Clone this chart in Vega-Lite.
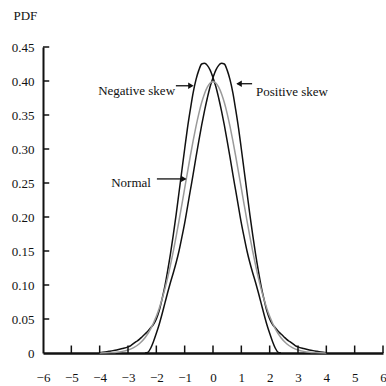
{
  "$schema": "https://vega.github.io/schema/vega-lite/v6.json",
  "autosize": "none",
  "width": 340,
  "height": 306,
  "padding": {"left": 43, "top": 47, "right": 3, "bottom": 33},
  "background": "white",
  "config": {
    "view": {"stroke": null},
    "font": "Liberation Serif",
    "axis": {"labelFont": "Liberation Serif", "labelFontSize": 13, "labelColor": "#111", "domainColor": "#111", "grid": false}
  },
  "datasets": {
    "curves": [
      {"x": -2.4, "y": 0, "curve": "pos"},
      {"x": -2.3, "y": 0.001, "curve": "pos"},
      {"x": -2.2, "y": 0.007, "curve": "pos"},
      {"x": -2.1, "y": 0.017, "curve": "pos"},
      {"x": -2.0, "y": 0.029, "curve": "pos"},
      {"x": -1.9, "y": 0.042, "curve": "pos"},
      {"x": -1.8, "y": 0.057, "curve": "pos"},
      {"x": -1.7, "y": 0.073, "curve": "pos"},
      {"x": -1.6, "y": 0.089, "curve": "pos"},
      {"x": -1.5, "y": 0.104, "curve": "pos"},
      {"x": -1.4, "y": 0.118, "curve": "pos"},
      {"x": -1.3, "y": 0.133, "curve": "pos"},
      {"x": -1.2, "y": 0.150, "curve": "pos"},
      {"x": -1.1, "y": 0.170, "curve": "pos"},
      {"x": -1.0, "y": 0.191, "curve": "pos"},
      {"x": -0.9, "y": 0.215, "curve": "pos"},
      {"x": -0.8, "y": 0.239, "curve": "pos"},
      {"x": -0.7, "y": 0.263, "curve": "pos"},
      {"x": -0.6, "y": 0.288, "curve": "pos"},
      {"x": -0.5, "y": 0.312, "curve": "pos"},
      {"x": -0.4, "y": 0.335, "curve": "pos"},
      {"x": -0.3, "y": 0.356, "curve": "pos"},
      {"x": -0.2, "y": 0.375, "curve": "pos"},
      {"x": -0.1, "y": 0.392, "curve": "pos"},
      {"x": 0.0, "y": 0.405, "curve": "pos"},
      {"x": 0.1, "y": 0.416, "curve": "pos"},
      {"x": 0.2, "y": 0.423, "curve": "pos"},
      {"x": 0.3, "y": 0.426, "curve": "pos"},
      {"x": 0.4, "y": 0.425, "curve": "pos"},
      {"x": 0.5, "y": 0.416, "curve": "pos"},
      {"x": 0.6, "y": 0.402, "curve": "pos"},
      {"x": 0.7, "y": 0.383, "curve": "pos"},
      {"x": 0.8, "y": 0.358, "curve": "pos"},
      {"x": 0.9, "y": 0.331, "curve": "pos"},
      {"x": 1.0, "y": 0.300, "curve": "pos"},
      {"x": 1.1, "y": 0.268, "curve": "pos"},
      {"x": 1.2, "y": 0.236, "curve": "pos"},
      {"x": 1.3, "y": 0.204, "curve": "pos"},
      {"x": 1.4, "y": 0.174, "curve": "pos"},
      {"x": 1.5, "y": 0.146, "curve": "pos"},
      {"x": 1.6, "y": 0.121, "curve": "pos"},
      {"x": 1.7, "y": 0.098, "curve": "pos"},
      {"x": 1.8, "y": 0.079, "curve": "pos"},
      {"x": 1.9, "y": 0.062, "curve": "pos"},
      {"x": 2.0, "y": 0.050, "curve": "pos"},
      {"x": 2.1, "y": 0.042, "curve": "pos"},
      {"x": 2.2, "y": 0.037, "curve": "pos"},
      {"x": 2.3, "y": 0.032, "curve": "pos"},
      {"x": 2.4, "y": 0.028, "curve": "pos"},
      {"x": 2.5, "y": 0.024, "curve": "pos"},
      {"x": 2.6, "y": 0.020, "curve": "pos"},
      {"x": 2.7, "y": 0.017, "curve": "pos"},
      {"x": 2.8, "y": 0.014, "curve": "pos"},
      {"x": 2.9, "y": 0.011, "curve": "pos"},
      {"x": 3.0, "y": 0.009, "curve": "pos"},
      {"x": 3.2, "y": 0.0065, "curve": "pos"},
      {"x": 3.4, "y": 0.0045, "curve": "pos"},
      {"x": 3.6, "y": 0.003, "curve": "pos"},
      {"x": 3.8, "y": 0.0015, "curve": "pos"},
      {"x": 4.0, "y": 0.0005, "curve": "pos"},

      {"x": 2.4, "y": 0, "curve": "neg"},
      {"x": 2.3, "y": 0.001, "curve": "neg"},
      {"x": 2.2, "y": 0.007, "curve": "neg"},
      {"x": 2.1, "y": 0.017, "curve": "neg"},
      {"x": 2.0, "y": 0.029, "curve": "neg"},
      {"x": 1.9, "y": 0.042, "curve": "neg"},
      {"x": 1.8, "y": 0.057, "curve": "neg"},
      {"x": 1.7, "y": 0.073, "curve": "neg"},
      {"x": 1.6, "y": 0.089, "curve": "neg"},
      {"x": 1.5, "y": 0.104, "curve": "neg"},
      {"x": 1.4, "y": 0.118, "curve": "neg"},
      {"x": 1.3, "y": 0.133, "curve": "neg"},
      {"x": 1.2, "y": 0.150, "curve": "neg"},
      {"x": 1.1, "y": 0.170, "curve": "neg"},
      {"x": 1.0, "y": 0.191, "curve": "neg"},
      {"x": 0.9, "y": 0.215, "curve": "neg"},
      {"x": 0.8, "y": 0.239, "curve": "neg"},
      {"x": 0.7, "y": 0.263, "curve": "neg"},
      {"x": 0.6, "y": 0.288, "curve": "neg"},
      {"x": 0.5, "y": 0.312, "curve": "neg"},
      {"x": 0.4, "y": 0.335, "curve": "neg"},
      {"x": 0.3, "y": 0.356, "curve": "neg"},
      {"x": 0.2, "y": 0.375, "curve": "neg"},
      {"x": 0.1, "y": 0.392, "curve": "neg"},
      {"x": 0.0, "y": 0.405, "curve": "neg"},
      {"x": -0.1, "y": 0.416, "curve": "neg"},
      {"x": -0.2, "y": 0.423, "curve": "neg"},
      {"x": -0.3, "y": 0.426, "curve": "neg"},
      {"x": -0.4, "y": 0.425, "curve": "neg"},
      {"x": -0.5, "y": 0.416, "curve": "neg"},
      {"x": -0.6, "y": 0.402, "curve": "neg"},
      {"x": -0.7, "y": 0.383, "curve": "neg"},
      {"x": -0.8, "y": 0.358, "curve": "neg"},
      {"x": -0.9, "y": 0.331, "curve": "neg"},
      {"x": -1.0, "y": 0.300, "curve": "neg"},
      {"x": -1.1, "y": 0.268, "curve": "neg"},
      {"x": -1.2, "y": 0.236, "curve": "neg"},
      {"x": -1.3, "y": 0.204, "curve": "neg"},
      {"x": -1.4, "y": 0.174, "curve": "neg"},
      {"x": -1.5, "y": 0.146, "curve": "neg"},
      {"x": -1.6, "y": 0.121, "curve": "neg"},
      {"x": -1.7, "y": 0.098, "curve": "neg"},
      {"x": -1.8, "y": 0.079, "curve": "neg"},
      {"x": -1.9, "y": 0.062, "curve": "neg"},
      {"x": -2.0, "y": 0.050, "curve": "neg"},
      {"x": -2.1, "y": 0.042, "curve": "neg"},
      {"x": -2.2, "y": 0.037, "curve": "neg"},
      {"x": -2.3, "y": 0.032, "curve": "neg"},
      {"x": -2.4, "y": 0.028, "curve": "neg"},
      {"x": -2.5, "y": 0.024, "curve": "neg"},
      {"x": -2.6, "y": 0.020, "curve": "neg"},
      {"x": -2.7, "y": 0.017, "curve": "neg"},
      {"x": -2.8, "y": 0.014, "curve": "neg"},
      {"x": -2.9, "y": 0.011, "curve": "neg"},
      {"x": -3.0, "y": 0.009, "curve": "neg"},
      {"x": -3.2, "y": 0.0065, "curve": "neg"},
      {"x": -3.4, "y": 0.0045, "curve": "neg"},
      {"x": -3.6, "y": 0.003, "curve": "neg"},
      {"x": -3.8, "y": 0.0015, "curve": "neg"},
      {"x": -4.0, "y": 0.0005, "curve": "neg"},

      {"x": -4.0, "y": 0.0001, "curve": "normal"},
      {"x": -3.6, "y": 0.0006, "curve": "normal"},
      {"x": -3.4, "y": 0.0012, "curve": "normal"},
      {"x": -3.2, "y": 0.0024, "curve": "normal"},
      {"x": -3.0, "y": 0.0044, "curve": "normal"},
      {"x": -2.8, "y": 0.0079, "curve": "normal"},
      {"x": -2.6, "y": 0.0136, "curve": "normal"},
      {"x": -2.4, "y": 0.0224, "curve": "normal"},
      {"x": -2.2, "y": 0.0355, "curve": "normal"},
      {"x": -2.0, "y": 0.0540, "curve": "normal"},
      {"x": -1.9, "y": 0.0656, "curve": "normal"},
      {"x": -1.8, "y": 0.0790, "curve": "normal"},
      {"x": -1.7, "y": 0.0940, "curve": "normal"},
      {"x": -1.6, "y": 0.1109, "curve": "normal"},
      {"x": -1.5, "y": 0.1295, "curve": "normal"},
      {"x": -1.4, "y": 0.1497, "curve": "normal"},
      {"x": -1.3, "y": 0.1714, "curve": "normal"},
      {"x": -1.2, "y": 0.1942, "curve": "normal"},
      {"x": -1.1, "y": 0.2179, "curve": "normal"},
      {"x": -1.0, "y": 0.2420, "curve": "normal"},
      {"x": -0.9, "y": 0.2661, "curve": "normal"},
      {"x": -0.8, "y": 0.2897, "curve": "normal"},
      {"x": -0.7, "y": 0.3123, "curve": "normal"},
      {"x": -0.6, "y": 0.3332, "curve": "normal"},
      {"x": -0.5, "y": 0.3521, "curve": "normal"},
      {"x": -0.4, "y": 0.3683, "curve": "normal"},
      {"x": -0.3, "y": 0.3814, "curve": "normal"},
      {"x": -0.2, "y": 0.3910, "curve": "normal"},
      {"x": -0.1, "y": 0.3970, "curve": "normal"},
      {"x": 0.0, "y": 0.3989, "curve": "normal"},
      {"x": 0.1, "y": 0.3970, "curve": "normal"},
      {"x": 0.2, "y": 0.3910, "curve": "normal"},
      {"x": 0.3, "y": 0.3814, "curve": "normal"},
      {"x": 0.4, "y": 0.3683, "curve": "normal"},
      {"x": 0.5, "y": 0.3521, "curve": "normal"},
      {"x": 0.6, "y": 0.3332, "curve": "normal"},
      {"x": 0.7, "y": 0.3123, "curve": "normal"},
      {"x": 0.8, "y": 0.2897, "curve": "normal"},
      {"x": 0.9, "y": 0.2661, "curve": "normal"},
      {"x": 1.0, "y": 0.2420, "curve": "normal"},
      {"x": 1.1, "y": 0.2179, "curve": "normal"},
      {"x": 1.2, "y": 0.1942, "curve": "normal"},
      {"x": 1.3, "y": 0.1714, "curve": "normal"},
      {"x": 1.4, "y": 0.1497, "curve": "normal"},
      {"x": 1.5, "y": 0.1295, "curve": "normal"},
      {"x": 1.6, "y": 0.1109, "curve": "normal"},
      {"x": 1.7, "y": 0.0940, "curve": "normal"},
      {"x": 1.8, "y": 0.0790, "curve": "normal"},
      {"x": 1.9, "y": 0.0656, "curve": "normal"},
      {"x": 2.0, "y": 0.0540, "curve": "normal"},
      {"x": 2.2, "y": 0.0355, "curve": "normal"},
      {"x": 2.4, "y": 0.0224, "curve": "normal"},
      {"x": 2.6, "y": 0.0136, "curve": "normal"},
      {"x": 2.8, "y": 0.0079, "curve": "normal"},
      {"x": 3.0, "y": 0.0044, "curve": "normal"},
      {"x": 3.2, "y": 0.0024, "curve": "normal"},
      {"x": 3.4, "y": 0.0012, "curve": "normal"},
      {"x": 3.6, "y": 0.0006, "curve": "normal"},
      {"x": 4.0, "y": 0.0001, "curve": "normal"}
    ],
    "xticks": [
      {"tx": -5, "ty": 0, "ty2": 0.011},
      {"tx": -4, "ty": 0, "ty2": 0.011},
      {"tx": -3, "ty": 0, "ty2": 0.011},
      {"tx": -2, "ty": 0, "ty2": 0.011},
      {"tx": -1, "ty": 0, "ty2": 0.011},
      {"tx": 0, "ty": 0, "ty2": 0.011},
      {"tx": 1, "ty": 0, "ty2": 0.011},
      {"tx": 2, "ty": 0, "ty2": 0.011},
      {"tx": 3, "ty": 0, "ty2": 0.011},
      {"tx": 4, "ty": 0, "ty2": 0.011},
      {"tx": 5, "ty": 0, "ty2": 0.011},
      {"tx": 6, "ty": 0, "ty2": 0.011}
    ],
    "yticks": [
      {"tx": -6, "tx2": -5.78, "ty": 0.05},
      {"tx": -6, "tx2": -5.78, "ty": 0.1},
      {"tx": -6, "tx2": -5.78, "ty": 0.15},
      {"tx": -6, "tx2": -5.78, "ty": 0.2},
      {"tx": -6, "tx2": -5.78, "ty": 0.25},
      {"tx": -6, "tx2": -5.78, "ty": 0.3},
      {"tx": -6, "tx2": -5.78, "ty": 0.35},
      {"tx": -6, "tx2": -5.78, "ty": 0.4},
      {"tx": -6, "tx2": -5.78, "ty": 0.45}
    ],
    "arrows": [
      {"x": -1.31, "x2": -0.74, "y": 0.393},
      {"x": 1.38, "x2": 0.86, "y": 0.396},
      {"x": -1.98, "x2": -0.98, "y": 0.256}
    ],
    "heads": [
      {"x": -0.78, "y": 0.393, "dir": "right"},
      {"x": 0.92, "y": 0.396, "dir": "left"},
      {"x": -1.03, "y": 0.256, "dir": "right"}
    ],
    "labelsRight": [
      {"x": -1.34, "y": 0.386, "text": "Negative skew"},
      {"x": -2.19, "y": 0.25, "text": "Normal"}
    ],
    "labelsLeft": [
      {"x": 1.52, "y": 0.384, "text": "Positive skew"}
    ]
  },
  "encoding": {
    "x": {
      "field": "x", "type": "quantitative",
      "scale": {"domain": [-6, 6], "nice": false, "zero": false},
      "axis": {
        "title": null, "values": [-6, -5, -4, -3, -2, -1, 0, 1, 2, 3, 4, 5, 6],
        "domainWidth": 2.5, "ticks": false, "tickSize": 0, "labelPadding": 18,
        "labelFlush": false, "labelOverlap": false
      }
    },
    "y": {
      "field": "y", "type": "quantitative",
      "scale": {"domain": [0, 0.45], "nice": false},
      "axis": {
        "title": "PDF", "titleAngle": 0, "titleAlign": "left", "titleBaseline": "middle",
        "titleX": -30, "titleY": -32, "titleFont": "Liberation Serif", "titleFontSize": 13,
        "titleFontWeight": "normal", "titleColor": "#111",
        "values": [0, 0.05, 0.1, 0.15, 0.2, 0.25, 0.3, 0.35, 0.4, 0.45],
        "labelExpr": "datum.value == 0 ? '0' : format(datum.value, '.2f')",
        "domainWidth": 2, "ticks": false, "tickSize": 0, "labelPadding": 9,
        "labelFlush": false, "labelOverlap": false
      }
    }
  },
  "layer": [
    {
      "data": {"name": "curves"},
      "mark": {"type": "line", "interpolate": "monotone", "strokeWidth": 1.5},
      "encoding": {
        "color": {
          "field": "curve", "type": "nominal",
          "scale": {"domain": ["neg", "pos", "normal"], "range": ["#111111", "#111111", "#9a9a9a"]},
          "legend": null
        }
      }
    },
    {
      "data": {"name": "xticks"},
      "mark": {"type": "rule", "color": "#111111", "strokeWidth": 1.5},
      "encoding": {
        "x": {"field": "tx", "type": "quantitative"},
        "y": {"field": "ty", "type": "quantitative"},
        "y2": {"field": "ty2"}
      }
    },
    {
      "data": {"name": "yticks"},
      "mark": {"type": "rule", "color": "#111111", "strokeWidth": 1.5},
      "encoding": {
        "x": {"field": "tx", "type": "quantitative"},
        "x2": {"field": "tx2"},
        "y": {"field": "ty", "type": "quantitative"}
      }
    },
    {
      "data": {"name": "arrows"},
      "mark": {"type": "rule", "color": "#111", "strokeWidth": 1.3},
      "encoding": {
        "x2": {"field": "x2"}
      }
    },
    {
      "data": {"name": "heads"},
      "mark": {"type": "point", "filled": true, "color": "#111", "size": 40, "opacity": 1},
      "encoding": {
        "shape": {
          "field": "dir", "type": "nominal",
          "scale": {"domain": ["right", "left"], "range": ["triangle-right", "triangle-left"]},
          "legend": null
        }
      }
    },
    {
      "data": {"name": "labelsRight"},
      "mark": {"type": "text", "font": "Liberation Serif", "fontSize": 13, "color": "#111", "baseline": "middle", "align": "right"},
      "encoding": {
        "text": {"field": "text"}
      }
    },
    {
      "data": {"name": "labelsLeft"},
      "mark": {"type": "text", "font": "Liberation Serif", "fontSize": 13, "color": "#111", "baseline": "middle", "align": "left"},
      "encoding": {
        "text": {"field": "text"}
      }
    }
  ]
}
